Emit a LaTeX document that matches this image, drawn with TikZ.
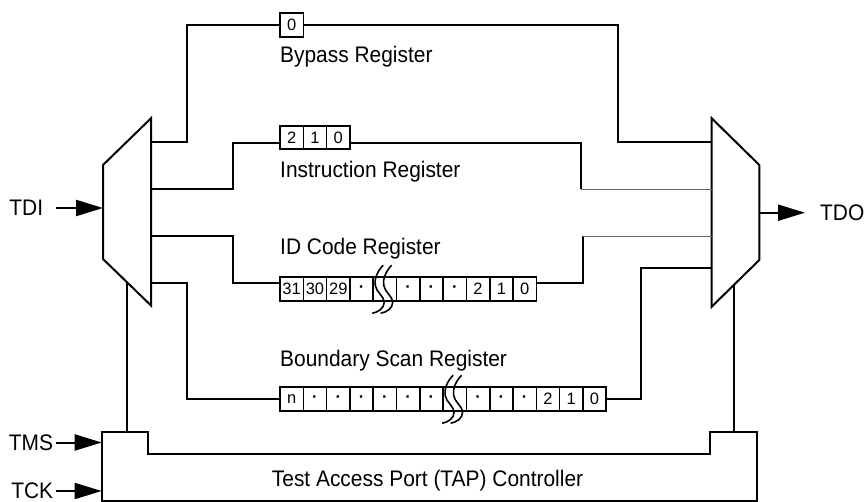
\documentclass[tikz,border=0pt]{standalone}
\usepackage{fontspec}
\setmainfont{Liberation Sans}
\usetikzlibrary{positioning,arrows.meta}
\tikzset{
  wire/.style={line width=2pt},
  faint/.style={line width=0.8pt, black!60},
  cell/.style={draw, line width=1.6pt, minimum width=23.3pt, minimum height=23.5pt,
    inner sep=0pt, outer sep=0pt, font=\fontsize{16.5}{16.5}\selectfont},
  lbl/.style={inner sep=0pt, font=\fontsize{22.5}{26}\selectfont, xscale=0.93, transform shape},
  arr/.style={wire, -{Triangle[length=27pt,width=16pt]}},
}
\newcommand{\dt}{\textbf{\textperiodcentered}}
% the two wavy break lines over one cell
\newcommand{\brk}[1]{%
  \foreach \d in {0,8.5}
    \draw[line width=1.6pt, shift={(#1.north west)}, xshift=\d pt]
      (10,-12) .. controls (4,-6) and (1,2) .. (2,8)
      .. controls (3,15) and (11,19) .. (11,25)
      .. controls (11,31) and (5,35) .. (-1,36);}
\begin{document}
\begin{tikzpicture}[x=1pt, y=-1pt]
\useasboundingbox (0,0) rectangle (864,502);
% muxes
\draw[wire] (151,118.3) -- (151,305.5) -- (103,259) -- (103,165) -- cycle;
\draw[wire] (711.7,118.3) -- (759.3,165) -- (759.3,260) -- (711.7,306.7) -- cycle;
\coordinate (lin) at (103,208);
\coordinate (l1) at (151,142.5);
\coordinate (l2) at (151,189);
\coordinate (l3) at (151,236);
\coordinate (l4) at (151,283);
\coordinate (lbot) at (127,282);
\coordinate (r1) at (711.7,142);
\coordinate (r2) at (711.7,189.3);
\coordinate (r3) at (711.7,236);
\coordinate (r4) at (711.7,267.7);
\coordinate (rout) at (759.3,212.7);
\coordinate (rbot) at (734.3,284.5);

% registers
\node[cell] (bp0) at (291.65,25) {0};
\node[cell] (ir1) at (291.65,137.5) {2};
\foreach \t [count=\i from 2, remember=\i as \j (initially 1)] in {1,0}
  \node[cell, right=0pt of ir\j] (ir\i) {\t};
\node[cell] (id1) at (291.65,289) {31};
\foreach \t [count=\i from 2, remember=\i as \j (initially 1)] in {30,29,\dt,{},\dt,\dt,\dt,2,1,0}
  \node[cell, right=0pt of id\j] (id\i) {\t};
\node[cell] (bs1) at (291.65,399) {n};
\foreach \t [count=\i from 2, remember=\i as \j (initially 1)] in {\dt,\dt,\dt,\dt,\dt,\dt,{},\dt,\dt,\dt,2,1,0}
  \node[cell, right=0pt of bs\j] (bs\i) {\t};
\brk{id5}
\brk{bs8}

\node[lbl, anchor=base west] (bpl) at (280,62.7) {Bypass Register};
\node[lbl, anchor=base west] (irl) at (280,177.3) {Instruction Register};
\node[lbl, anchor=base west] (idl) at (280,255) {ID Code Register};
\node[lbl, anchor=base west] (bsl) at (280,366.7) {Boundary Scan Register};

% wiring
\draw[wire] (l1) -| (187,25) -- (bp0.west);
\draw[wire] (bp0.east) -| (618,142) -- (r1);
\draw[wire] (l2) -| (233,143) -- ([yshift=-5.5pt]ir1.west);
\draw[wire] ([yshift=-5.5pt]ir3.east) -| (581,189.3);
\draw[faint] (581,189.3) -- (r2);
\draw[wire] (l3) -| (233,283) -- ([yshift=6pt]id1.west);
\draw[wire] ([yshift=6pt]id11.east) -| (583,236);
\draw[faint] (583,236) -- (r3);
\draw[wire] (l4) -| (187,399) -- (bs1.west);
\draw[wire] (bs14.east) -| (641,267.7) -- (r4);

% TAP controller
\draw[wire] (101.7,431.7) -- (148.3,431.7) -- (148.3,454.3) -- (710,454.3)
  -- (710,431.7) -- (756.7,431.7) -- (756.7,500.5) -- (101.7,500.5) -- cycle;
\node[lbl, anchor=base] (tap) at (427.5,486.7) {Test Access Port (TAP) Controller};
\draw[wire] (lbot) -- (127,431.7);
\draw[wire] (rbot) -- (734.3,431.7);

% pins
\coordinate (tmsin) at (101.7,442.5);
\coordinate (tckin) at (101.7,491);
\node[lbl, anchor=east] (tdi) at (43.3,208) {TDI};
\node[lbl, anchor=east] (tms) at (53.3,442.5) {TMS};
\node[lbl, anchor=east] (tck) at (53.3,491) {TCK};
\node[lbl, anchor=west] (tdo) at (820,212.7) {TDO};
\draw[arr, shorten <=13pt] (tdi) -- (lin);
\draw[arr, shorten <=3pt] (tms) -- (tmsin);
\draw[arr, shorten <=3pt] (tck) -- (tckin);
\draw[arr, shorten >=15pt] (rout) -- (tdo);
\end{tikzpicture}
\end{document}
